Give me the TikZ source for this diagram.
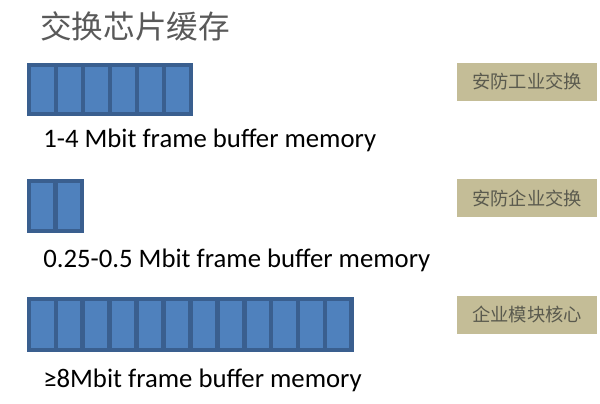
\documentclass[tikz,border=0pt]{standalone}
\usepackage{fontspec}
\setmainfont{Carlito}
\newfontfamily\cjk{Noto Sans CJK SC}
\definecolor{cellfill}{HTML}{4F81BD}
\definecolor{celledge}{HTML}{3A5F8F}
\definecolor{tagfill}{HTML}{C4BD97}
\definecolor{tagtext}{HTML}{5A5A4E}
\definecolor{titlegray}{HTML}{595959}
\tikzset{
    cell/.style={fill=cellfill, draw=celledge, line width=3.4pt},
    tag/.style={fill=tagfill, minimum width=140*0.025cm, minimum height=38*0.025cm,
        inner sep=0pt, text=tagtext, font=\cjk\fontsize{13}{15}\selectfont},
    caption/.style={anchor=base west, inner sep=0pt, font=\fontsize{19}{22}\selectfont}
}
\begin{document}
\begin{tikzpicture}[x=0.025cm, y=-0.025cm]
    \useasboundingbox (0,0) rectangle (600,403);

    % Title
    \node[anchor=west, inner sep=0pt, text=titlegray, font=\cjk\fontsize{22.5}{26}\selectfont]
        (title) at (40,26) {交换芯片缓存};

    % Buffers
    \foreach \i in {0,...,5}
        \draw[cell] ({29+\i*27},65) rectangle ({29+(\i+1)*27},114);
    \foreach \i in {0,...,1}
        \draw[cell] ({29+\i*26.5},181) rectangle ({29+(\i+1)*26.5},231);
    \foreach \i in {0,...,11}
        \draw[cell] ({29+\i*26.9},299) rectangle ({29+(\i+1)*26.9},350);

    % Captions
    \node[caption] (capA) at (43,147.5) {1-4 Mbit frame buffer memory};
    \node[caption] (capB) at (43,267.5) {0.25-0.5 Mbit frame buffer memory};
    \node[caption] (capC) at (43,387.5) {≥8Mbit frame buffer memory};

    % Tags
    \node[tag] (tagA) at (527,81.5) {安防工业交换};
    \node[tag] (tagB) at (527,198) {安防企业交换};
    \node[tag] (tagC) at (527,314.5) {企业模块核心};
\end{tikzpicture}
\end{document}
